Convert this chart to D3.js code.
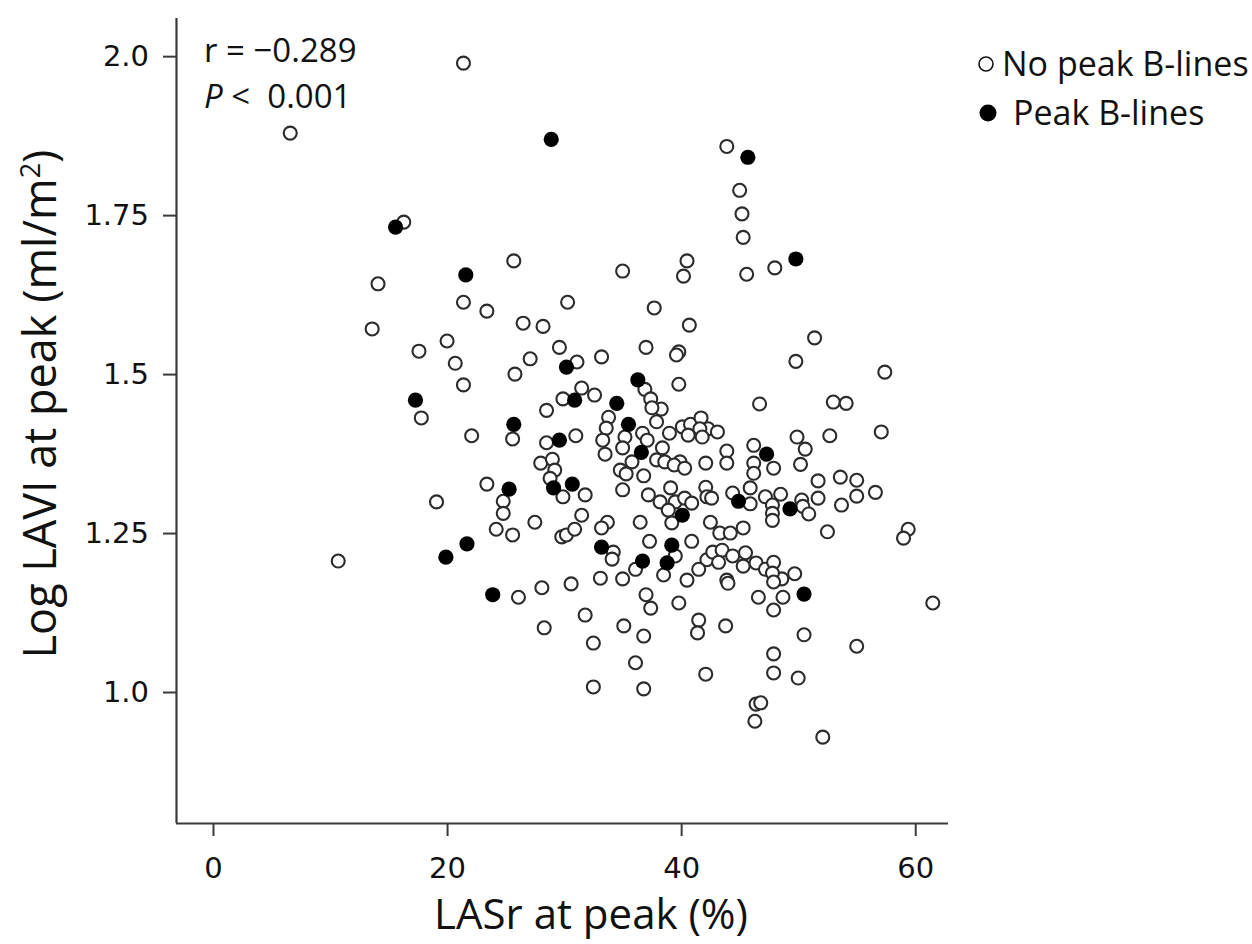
<!DOCTYPE html>
<html><head><meta charset="utf-8">
<script src="https://cdn.jsdelivr.net/npm/d3@7"></script>
<style>body{margin:0;background:#fff}svg{display:block}text{font-family:"Open Sans",sans-serif;fill:#111}</style>
</head><body>
<svg id="c" width="1252" height="944"></svg>
<script>
// LASr at peak (%) for patients without peak B-lines
const noPeakX = [21.4,6.6,43.9,45.0,45.2,45.3,16.3,14.1,25.7,40.5,48.0,35.0,40.2,45.6,21.4,23.4,30.3,37.7,40.7,13.6,26.5,28.2,20.0,51.4,39.8,39.6,17.6,20.7,49.8,29.6,27.1,31.1,25.8,21.4,17.8,29.9,31.5,28.5,25.6,22.1,28.5,31.0,28.0,29.0,29.2,37.0,33.2,39.8,46.7,36.9,37.4,38.3,37.5,37.9,32.6,33.8,33.6,33.3,33.5,35.2,36.7,37.1,35.0,38.4,35.8,34.8,37.9,38.6,39.0,40.1,40.8,41.7,42.3,43.1,40.6,41.6,41.8,39.9,39.4,40.3,42.1,43.9,43.9,46.2,46.2,46.2,47.9,35.3,36.8,53.0,54.1,57.4,49.9,50.6,52.7,57.1,50.2,51.7,53.6,55.0,48.5,50.3,50.4,50.9,51.7,53.7,55.0,56.6,52.5,59.4,59.0,49.7,48.6,48.7,61.5,50.5,55.0,50.0,32.5,36.8,46.4,46.8,46.3,52.1,10.7,23.4,24.8,24.8,19.1,27.5,24.2,25.6,29.9,28.8,29.8,30.2,30.9,31.5,26.1,28.1,30.6,28.3,31.8,31.8,35.0,37.2,38.2,39.1,39.5,38.9,39.2,40.3,40.9,42.1,42.2,42.6,44.4,45.9,45.9,47.2,47.8,47.8,47.8,33.7,33.2,36.5,42.5,43.3,44.2,45.3,37.3,40.9,34.2,34.1,39.5,36.1,38.5,33.1,35.0,42.2,42.7,43.5,44.4,45.5,43.2,45.3,46.4,47.2,47.9,47.8,47.9,41.5,40.5,43.9,44.0,37.0,37.4,39.8,46.6,47.9,35.1,36.8,32.5,41.5,41.4,43.8,36.1,47.9,47.9,42.1];
// Log LAVI at peak for patients without peak B-lines
const noPeakY = [1.989,1.879,1.858,1.789,1.752,1.715,1.739,1.642,1.678,1.678,1.667,1.662,1.654,1.657,1.613,1.599,1.613,1.604,1.577,1.571,1.580,1.575,1.552,1.557,1.535,1.530,1.536,1.517,1.520,1.542,1.524,1.519,1.500,1.483,1.431,1.461,1.478,1.443,1.398,1.403,1.392,1.403,1.360,1.366,1.349,1.542,1.527,1.484,1.453,1.476,1.461,1.445,1.447,1.425,1.467,1.432,1.415,1.396,1.374,1.401,1.407,1.396,1.384,1.384,1.362,1.349,1.365,1.362,1.407,1.417,1.421,1.431,1.414,1.409,1.404,1.414,1.401,1.362,1.357,1.352,1.360,1.379,1.360,1.388,1.360,1.344,1.352,1.343,1.340,1.456,1.454,1.503,1.401,1.382,1.403,1.409,1.358,1.332,1.338,1.333,1.311,1.302,1.292,1.280,1.305,1.294,1.308,1.314,1.252,1.256,1.242,1.186,1.178,1.149,1.140,1.090,1.072,1.022,1.008,1.005,0.981,0.983,0.954,0.929,1.206,1.327,1.300,1.281,1.299,1.267,1.256,1.247,1.307,1.336,1.244,1.247,1.256,1.278,1.149,1.164,1.170,1.101,1.121,1.310,1.318,1.310,1.299,1.321,1.299,1.286,1.266,1.305,1.297,1.322,1.307,1.305,1.313,1.321,1.296,1.307,1.294,1.281,1.270,1.267,1.258,1.267,1.267,1.250,1.250,1.258,1.237,1.237,1.220,1.209,1.214,1.193,1.184,1.179,1.178,1.208,1.220,1.223,1.214,1.219,1.204,1.198,1.203,1.193,1.204,1.187,1.173,1.193,1.176,1.176,1.171,1.153,1.132,1.140,1.149,1.129,1.104,1.088,1.077,1.113,1.093,1.104,1.046,1.060,1.030,1.028];
// Patients with peak B-lines
const peakX = [28.9,45.7,15.6,21.6,49.8,30.2,17.3,30.9,25.7,29.6,36.3,34.5,35.5,36.6,47.3,30.7,25.3,29.1,40.1,44.9,49.3,21.7,19.9,33.2,39.2,36.7,38.8,23.9,50.5];
const peakY = [1.869,1.841,1.731,1.656,1.681,1.511,1.459,1.459,1.421,1.396,1.491,1.454,1.421,1.377,1.374,1.327,1.319,1.321,1.278,1.300,1.288,1.233,1.212,1.228,1.231,1.206,1.203,1.153,1.154];

const xTicks = [0,20,40,60];
const yTicks = [1.0,1.25,1.5,1.75,2.0];
const yTickLabels = ["1.0","1.25","1.5","1.75","2.0"];
const xTitle = "LASr at peak (%)";
const statR = "r = \u22120.289";
const statP = "0.001";
const legendLabels = ["No peak B-lines","Peak B-lines"];

const svg = d3.select("#c");
const x = d3.scaleLinear().domain([-3.16, 62.8]).range([176, 948]);
const y = d3.scaleLinear().domain([0.794, 2.06]).range([823, 18]);
const axisColor = "#3a3a3a";
const tickFont = "'DejaVu Sans',sans-serif";

// axes
const gx = svg.append("g").attr("transform","translate(0,823)")
  .call(d3.axisBottom(x).tickValues(xTicks).tickSize(13).tickPadding(21).tickFormat(d3.format("d")));
const gy = svg.append("g").attr("transform","translate(176,0)")
  .call(d3.axisLeft(y).tickValues(yTicks).tickSize(13).tickPadding(14).tickFormat((d,i)=>yTickLabels[i]));
[gx,gy].forEach(g=>{
  g.select(".domain").attr("stroke",axisColor).attr("stroke-width",2.2);
  g.selectAll(".tick line").attr("stroke",axisColor).attr("stroke-width",2);
  g.selectAll(".tick text").attr("fill","#111").style("font-size","29px").style("font-family",tickFont);
});
gx.select(".domain").attr("d","M176,0.5H948");
gy.select(".domain").attr("d","M0.5,18V823");

// points
const open = noPeakX.map((v,i)=>({x:v,y:noPeakY[i]}));
const filled = peakX.map((v,i)=>({x:v,y:peakY[i]}));
svg.append("g").selectAll("circle").data(open).join("circle")
  .attr("cx",d=>x(d.x)).attr("cy",d=>y(d.y)).attr("r",6.5)
  .attr("fill","#fff").attr("stroke","#2b2b2b").attr("stroke-width",2.1);
svg.append("g").selectAll("circle").data(filled).join("circle")
  .attr("cx",d=>x(d.x)).attr("cy",d=>y(d.y)).attr("r",7.6)
  .attr("fill","#000");

// stats text
svg.append("text").attr("x",204).attr("y",62).style("font-size","33px").text(statR);
const tp = svg.append("text").attr("x",204).attr("y",108).style("font-size","33px").attr("xml:space","preserve");
tp.append("tspan").style("font-style","italic").text("P");
tp.append("tspan").text(" <  " + statP);

// legend
svg.append("circle").attr("cx",986).attr("cy",64).attr("r",7).attr("fill","#fff").attr("stroke","#111").attr("stroke-width",1.6);
svg.append("text").attr("x",1002).attr("y",76).style("font-size","34px").text(legendLabels[0]);
svg.append("circle").attr("cx",988).attr("cy",113).attr("r",8.5).attr("fill","#000");
svg.append("text").attr("x",1013).attr("y",125).style("font-size","34px").text(legendLabels[1]);

// axis titles
svg.append("text").attr("x",591).attr("y",929).attr("text-anchor","middle").style("font-size","42px").text(xTitle);
const yt = svg.append("text").attr("transform","translate(56,404) rotate(-90)").attr("text-anchor","middle").style("font-size","45px");
yt.append("tspan").text("Log LAVI at peak (ml/m");
yt.append("tspan").attr("dy",-16).style("font-size","27px").text("2");
yt.append("tspan").attr("dy",16).text(")");
</script>
</body></html>
